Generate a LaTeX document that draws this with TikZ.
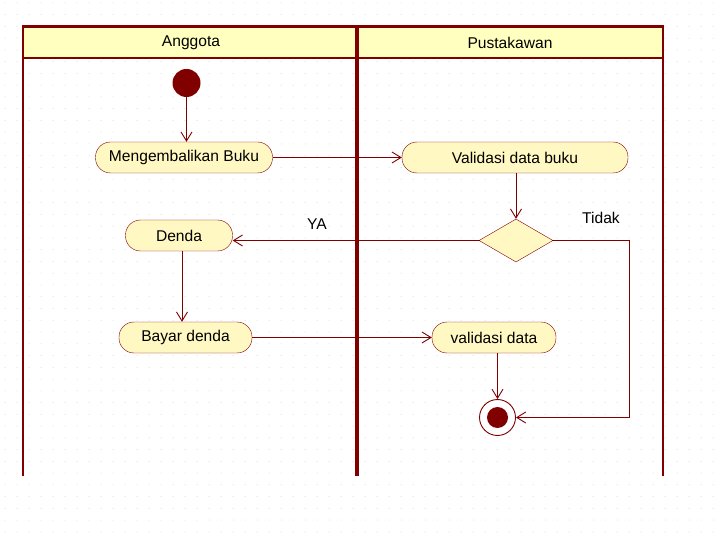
\documentclass[tikz,border=0pt]{standalone}
\usepackage{fontspec}
\setmainfont{Liberation Sans}
\usetikzlibrary{arrows.meta,shapes.geometric}
\definecolor{dred}{HTML}{800000}
\definecolor{nfill}{HTML}{FFF8C2}
\definecolor{hfill}{HTML}{FFFFC0}
\definecolor{gdot}{HTML}{D4D4D4}
\tikzset{
  act/.style={draw=dred, fill=nfill, rounded corners=15pt, minimum height=31pt, inner sep=0pt, font=\fontsize{15.6}{18}\selectfont},
  lbl/.style={font=\fontsize{15.6}{18}\selectfont, inner sep=0pt},
  arr/.style={draw=dred, line width=0.9pt, -{Straight Barb[length=9pt,width=11pt,line width=0.9pt]}},
  plain/.style={draw=dred, line width=0.9pt},
  lane/.style={draw=dred, line width=2pt},
}
\begin{document}
\begin{tikzpicture}[x=1pt,y=-1pt]
\useasboundingbox (0,0) rectangle (718,540);
\fill[white] (0,0) rectangle (718,540);
% dot grid
\foreach \i in {0,...,59} {
  \foreach \j in {0,...,45} {
    \fill[gdot] (5+12*\i, 3+11.75*\j) circle (0.5pt);
  }
}
% swimlanes
\fill[hfill] (23,27) rectangle (663,58);
\node[lbl] (hA) at (191,43) {Anggota};
\node[lbl] (hP) at (510,43) {Pustakawan};
\draw[dred, line width=3pt] (22,27) -- (664,27);
\draw[lane] (23,27) -- (23,476);
\draw[lane] (663,27) -- (663,476);
\draw[dred, line width=3.5pt] (357,27) -- (357,476);
\draw[dred, line width=2pt] (23,58) -- (663,58);
% nodes
\node[circle, fill=dred, minimum size=28pt, inner sep=0pt] (start) at (186.5,83) {};
\node[act, minimum width=177pt] (mb) at (184,157.5) {Mengembalikan Buku};
\node[act, minimum width=226pt] (vdb) at (515,157.5) {Validasi data buku};
\node[diamond, draw=dred, fill=nfill, minimum width=74pt, minimum height=43pt, inner sep=0pt] (dec) at (516,240.5) {};
\node[act, minimum width=107pt] (denda) at (179,235.5) {Denda};
\node[act, minimum width=133pt] (bd) at (185.5,337.5) {Bayar denda};
\node[act, minimum width=124pt] (vd) at (494,337.5) {validasi data};
\node[circle, draw=dred, fill=white, line width=0.9pt, minimum size=36pt, inner sep=0pt] (final) at (497.5,417.5) {};
\node[circle, fill=dred, minimum size=21pt, inner sep=0pt] (finalin) at (final.center) {};
\coordinate (tx) at (629,0);
% labels
\node[lbl] (ya) at (317,224) {YA};
\node[lbl] (tidak) at (601,218) {Tidak};
% connectors
\draw[arr] (start.south) -- (start.south |- mb.north);
\draw[arr] (mb.east) -- (vdb.west);
\draw[arr] (vdb.south -| dec.north) -- (dec.north);
\draw[arr] (dec.west) -- (dec.west -| denda.east);
\draw[arr] (dec.east) -- (dec.east -| tx) |- (final.east);
\draw[arr] (denda.south -| 182,0) -- (bd.north -| 182,0);
\draw[arr] (bd.east) -- (vd.west);
\draw[arr] (vd.south -| final.north) -- (final.north);
\end{tikzpicture}
\end{document}
